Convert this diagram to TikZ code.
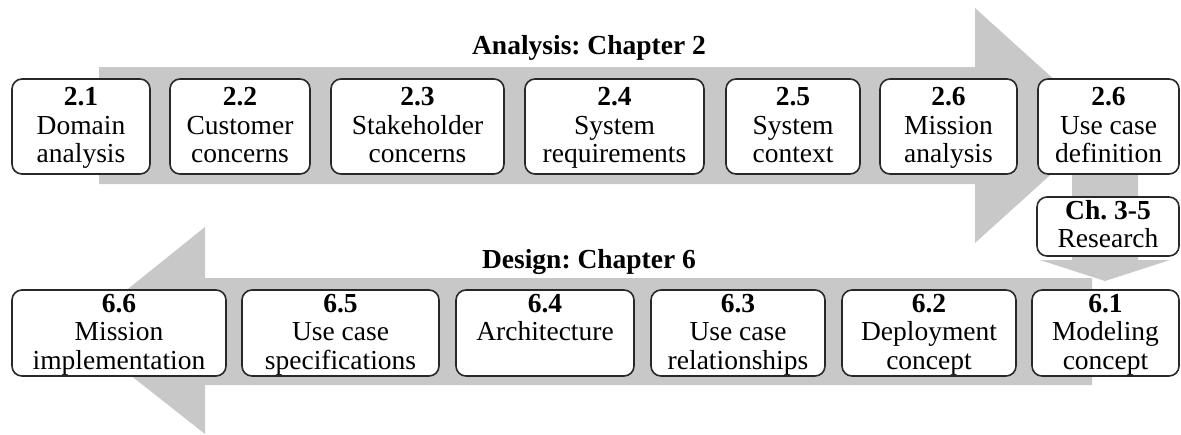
\documentclass[tikz,border=0pt]{standalone}
\usepackage{fontspec}
\setmainfont{Liberation Serif}
\usetikzlibrary{calc}
\frenchspacing

\definecolor{flowgray}{RGB}{200,200,200}
\definecolor{boxline}{RGB}{40,40,40}

\tikzset{
  procbox/.style={draw=boxline, line width=0.8pt, rounded corners=5pt,
    fill=white, inner sep=0pt},
  boxtext/.style={anchor=base, inner sep=0pt,
    font=\fontsize{13.75}{14.25}\selectfont},
  heading/.style={anchor=base, inner sep=0pt,
    font=\fontsize{13.75}{14.25}\selectfont\bfseries},
  flow/.style={fill=flowgray, draw=none},
}

% #1 name, #2 left, #3 right, #4 top, #5 bottom, #6 first baseline, #7 lines
\newcommand\stagebox[7]{%
  \node[procbox, minimum width={(#3-#2)*0.5pt}, minimum height={(#5-#4)*0.5pt}]
    (#1) at ({(#2+#3)/2},{(#4+#5)/2}) {};
  \node[boxtext] (#1-t) at ({(#2+#3)/2},#6)
    {\begin{tabular}[t]{@{}c@{}}#7\end{tabular}};
}

\begin{document}
\begin{tikzpicture}[x=0.5pt, y=-0.5pt]
  \useasboundingbox (0,0) rectangle (1181,434);

  % broad flow arrows behind the stages
  \fill[flow] (99,67) -- (975,67) -- (975,8) -- (1105,125.5) -- (975,243)
    -- (975,184) -- (99,184) -- cycle;
  \fill[flow] (1092,278) -- (205,278) -- (205,227) -- (75,331.5) -- (205,434)
    -- (205,385) -- (1092,385) -- cycle;
  \fill[flow] (1072,170) -- (1138,170) -- (1138,260) -- (1170,260)
    -- (1105,281) -- (1040,260) -- (1072,260) -- cycle;

  % headings
  \node[heading] (analysis) at (589,54) {Analysis: Chapter 2};
  \node[heading] (design) at (589,268) {Design: Chapter 6};

  % analysis stages
  \stagebox{s21}{12}{150}{79}{174}{105.5}{\textbf{2.1}\\Domain\\analysis}
  \stagebox{s22}{170}{310}{79}{174}{105.5}{\textbf{2.2}\\Customer\\concerns}
  \stagebox{s23}{331}{504}{79}{174}{105.5}{\textbf{2.3}\\Stakeholder\\concerns}
  \stagebox{s24}{525}{704}{79}{174}{105.5}{\textbf{2.4}\\System\\requirements}
  \stagebox{s25}{726}{860}{79}{174}{105.5}{\textbf{2.5}\\System\\context}
  \stagebox{s26}{880}{1017}{79}{174}{105.5}{\textbf{2.6}\\Mission\\analysis}
  \stagebox{s26b}{1038}{1179}{79}{174}{105.5}{\textbf{2.6}\\Use case\\definition}

  % research
  \stagebox{ch35}{1037}{1179}{197}{256}{219}{\textbf{Ch. 3-5}\\Research}

  % design stages
  \stagebox{s61}{1032}{1179}{290}{376}{312}{\textbf{6.1}\\Modeling\\concept}
  \stagebox{s62}{842}{1016}{290}{376}{312}{\textbf{6.2}\\Deployment\\concept}
  \stagebox{s63}{651}{825}{290}{376}{312}{\textbf{6.3}\\Use case\\relationships}
  \stagebox{s64}{456}{634}{290}{376}{312}{\textbf{6.4}\\Architecture}
  \stagebox{s65}{242}{439}{290}{376}{312}{\textbf{6.5}\\Use case\\specifications}
  \stagebox{s66}{12}{226}{290}{376}{312}{\textbf{6.6}\\Mission\\implementation}
\end{tikzpicture}
\end{document}
